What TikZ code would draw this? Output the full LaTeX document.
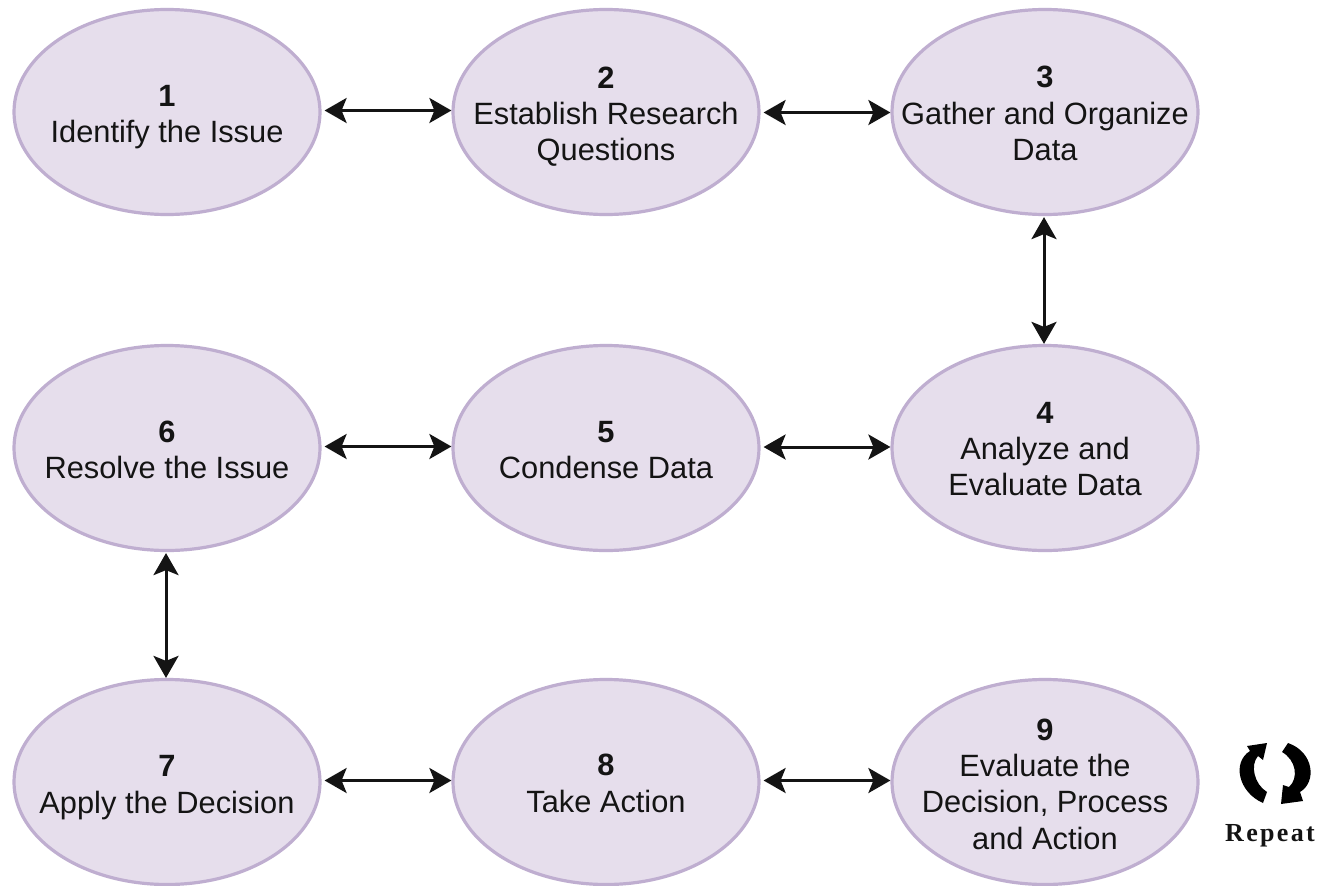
\documentclass[tikz,border=0pt]{standalone}
\usepackage{fontspec}
\setmainfont{Liberation Sans}
\newfontfamily\repfont[LetterSpace=9]{Liberation Serif}
\usetikzlibrary{shapes.geometric,arrows.meta,calc}
\definecolor{stagefill}{HTML}{E6DEEC}
\definecolor{stageline}{HTML}{BFAED0}
\definecolor{inkc}{HTML}{141414}
\tikzset{
  stage/.style={ellipse,draw=stageline,line width=3.2pt,fill=stagefill,minimum width=306pt,minimum height=205pt,inner sep=0pt},
  stagetext/.style={align=center,text=inkc,inner sep=0pt,font=\fontsize{30.8}{36.3}\selectfont},
  link/.style={line width=3pt,draw=inkc,{Stealth[length=22pt,width=25pt,inset=5pt]}-{Stealth[length=22pt,width=25pt,inset=5pt]},shorten <=3pt,shorten >=0pt},
  vlink/.style={line width=3pt,draw=inkc,{Stealth[length=22pt,width=25pt,inset=5pt]}-{Stealth[length=22pt,width=25pt,inset=5pt]},shorten <=1pt,shorten >=0pt},
  loopc/.style={fill=black,draw=none}
}
\begin{document}
\begin{tikzpicture}[x=1pt,y=-1pt]
\useasboundingbox (0,0) rectangle (1331,886);
\fill[white] (0,0) rectangle (1331,886);
\node[stage] (e1) at (167,112) {};
\node[stage] (e2) at (606,112) {};
\node[stage] (e3) at (1045,112) {};
\node[stage] (e4) at (1045,448) {};
\node[stage] (e5) at (606,448) {};
\node[stage] (e6) at (167,448) {};
\node[stage] (e7) at (167,782) {};
\node[stage] (e8) at (606,782) {};
\node[stage] (e9) at (1045,782) {};
\node[stagetext,yshift=-5pt] (t1) at (e1) {\textbf{1}\\Identify the Issue};
\node[stagetext,yshift=-4.5pt] (t2) at (e2) {\textbf{2}\\Establish Research\\Questions};
\node[stagetext,yshift=-1.5pt] (t3) at (e3) {\textbf{3}\\Gather and Organize\\Data};
\node[stagetext,yshift=-1pt] (t4) at (e4) {\textbf{4}\\Analyze and\\Evaluate Data};
\node[stagetext,yshift=-2pt] (t5) at (e5) {\textbf{5}\\Condense Data};
\node[stagetext,yshift=-2pt] (t6) at (e6) {\textbf{6}\\Resolve the Issue};
\node[stagetext,yshift=-5.5pt] (t7) at (e7) {\textbf{7}\\Apply the Decision};
\node[stagetext,yshift=-1.5pt] (t8) at (e8) {\textbf{8}\\Take Action};
\node[stagetext,yshift=-2pt] (t9) at (e9) {\textbf{9}\\Evaluate the\\Decision, Process\\and Action};
\draw[link] ([yshift=1.5pt]e1.east) -- ([yshift=1.5pt]e2.west);
\draw[link] ([yshift=-0.5pt]e2.east) -- ([yshift=-0.5pt]e3.west);
\draw[vlink] ([xshift=-1pt]e3.south) -- ([xshift=-1pt]e4.north);
\draw[link] ([yshift=1pt]e5.east) -- ([yshift=1pt]e4.west);
\draw[link] ([yshift=1.5pt]e6.east) -- ([yshift=1.5pt]e5.west);
\draw[vlink] ([xshift=-1pt]e6.south) -- ([xshift=-1pt]e7.north);
\draw[link] ([yshift=1.5pt]e7.east) -- ([yshift=1.5pt]e8.west);
\draw[link] ([yshift=1.5pt]e8.east) -- ([yshift=1.5pt]e9.west);
\fill[loopc] (1263,803) .. controls (1238,792) and (1232,762) .. (1250,751)
  -- (1247,746) -- (1267,743) -- (1263,760) -- (1258,756)
  .. controls (1250,765) and (1254,784) .. (1267,792) -- cycle;
\fill[loopc] (1288,743) .. controls (1314,752) and (1317,782) .. (1300,792)
  -- (1303,801) -- (1281,804) -- (1283,785) -- (1289,787)
  .. controls (1299,778) and (1296,760) .. (1282,752) -- cycle;
\node[inner sep=0pt,text=inkc,font=\repfont\fontsize{26}{30}\selectfont\bfseries] (rep) at (1270,836) {Repeat};
\end{tikzpicture}
\end{document}
